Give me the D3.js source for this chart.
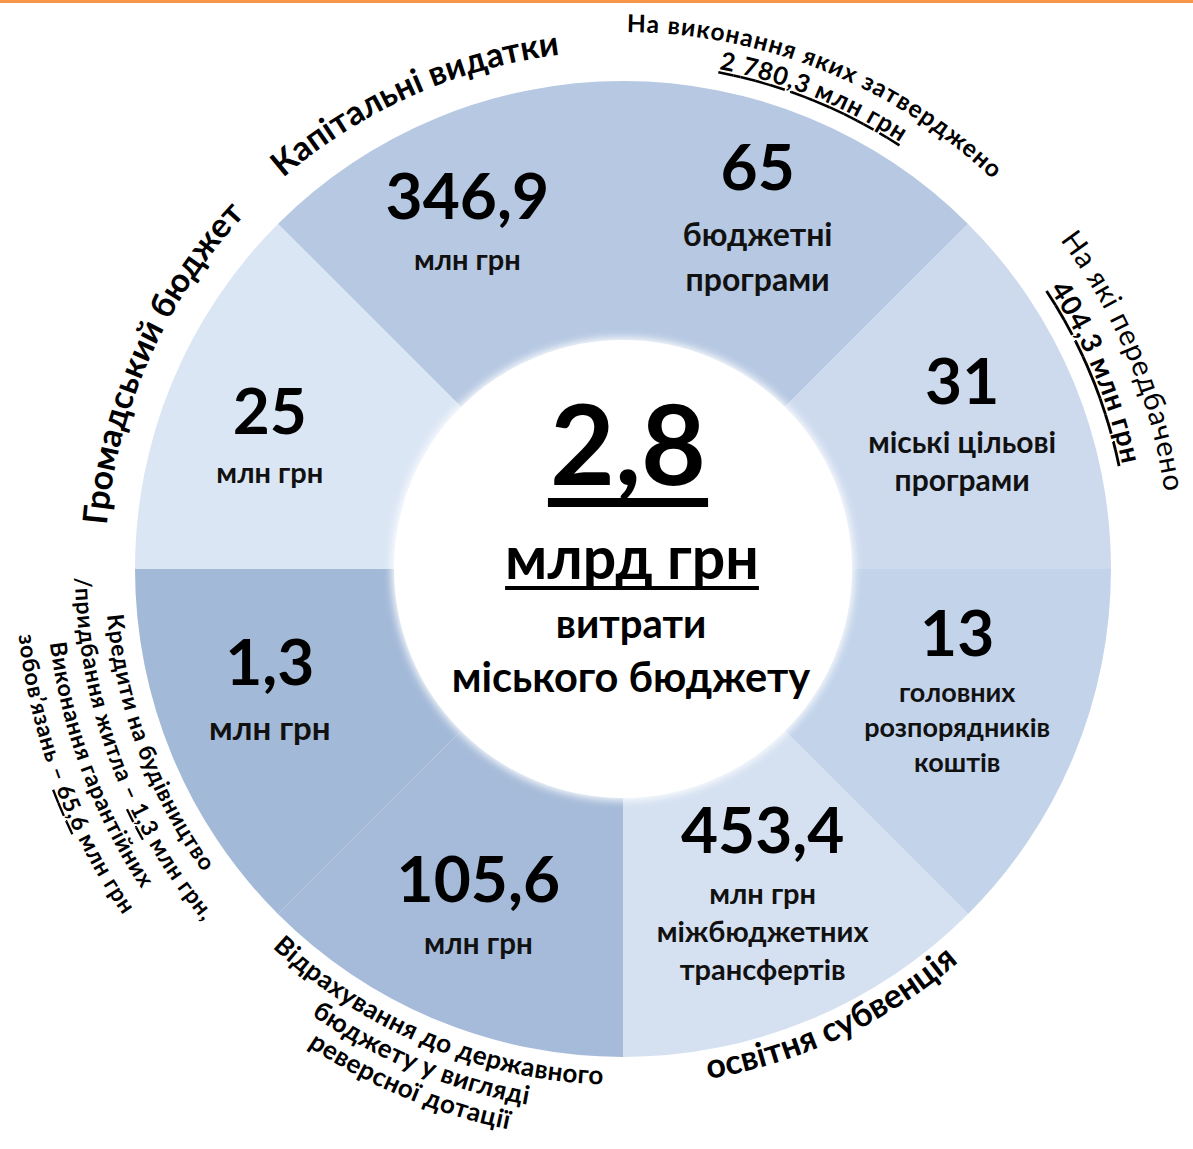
<!DOCTYPE html>
<html><head><meta charset="utf-8">
<script src="https://cdn.jsdelivr.net/npm/d3@7"></script>
<style>
html,body{margin:0;padding:0;background:#fff;}
svg{display:block;font-family:Lato,"Open Sans",sans-serif;}
</style></head><body>
<script>
// ---- data ----
const sectorWeights = [1, 1, 1, 1, 1, 1, 1, 1];
const sectorColors = ["#b6c8e2", "#b6c8e2", "#cddaee", "#c2d3ea", "#d5e1f1", "#a6bbd9", "#a3b9d8", "#dbe6f4"];
const bigValues = ["346,9", "65", "31", "13", "453,4", "105,6", "1,3", "25"];
const subLabels = [
  ["млн грн"],
  ["бюджетні", "програми"],
  ["міські цільові", "програми"],
  ["головних", "розпорядників", "коштів"],
  ["млн грн", "міжбюджетних", "трансфертів"],
  ["млн грн"],
  ["млн грн"],
  ["млн грн"]
];
// "_..._" marks an underlined part
const outerLabels = [
  ["Капітальні видатки"],
  ["На виконання яких затверджено", "_2 780,3 млн грн_"],
  ["На які передбачено", "_404,3 млн грн_"],
  [],
  ["освітня субвенція"],
  ["Відрахування до державного", "бюджету у вигляді", "реверсної дотації"],
  ["Кредити на будівництво", "/придбання житла – _1,3_ млн грн,", "Виконання гарантійних", "зобов’язань – _65,6_ млн грн"],
  ["Громадський бюджет"]
];
const centerTotal = "2,8";
const centerUnit = "млрд грн";
const centerCaption = ["витрати", "міського бюджету"];

// ---- layout / style ----
const W = 1193, H = 1149;
const cx = 623, cy = 569, rIn = 229, rOut = 488, rLabel = 365;
const innerNudge = [[-16,-5],[-5,-10],[2,0],[-3,-12],[0,-8],[-5,4],[-16,-15],[-16,11]];
const subSize = [29, 32, 30, 27, 29, 29.5, 33, 29];
const subGap = [64, 68, 62, 60, 64, 65, 66, 62];
const subStep = [38, 45, 38, 35, 38, 38, 38, 38];
const outerStyle = [
  {flip:false, dA:-1.5, lines:[{r:518,s:34,w:700,ls:0}]},
  {flip:false, dA:-0.5, lines:[{r:537,s:24.5,w:700,ls:1.1},{r:509,s:25,w:700,ls:1}]},
  {flip:false, dA:0, lines:[{r:547,s:29,w:400,ls:0.8},{r:510,s:28,w:700,ls:0.8}]},
  null,
  {flip:true, dA:-2.5, lines:[{r:517,s:34,w:700,ls:0}]},
  {flip:true, dA:0, lines:[{r:516,s:26,w:700,ls:0.4},{r:544,s:26,w:700,ls:0.4},{r:572,s:26,w:700,ls:0.4}]},
  {flip:true, dA:2, lines:[{r:518,s:23,w:700,ls:0.7},{r:548,s:23,w:700,ls:0.7},{r:578,s:23,w:700,ls:0.7},{r:608,s:23,w:700,ls:0.7}]},
  {flip:false, dA:1.5, lines:[{r:518,s:34,w:700,ls:0}]}
];

const svg = d3.select("body").append("svg").attr("width", W).attr("height", H);
const defs = svg.append("defs");
const blur = defs.append("filter").attr("id","soft").attr("x","-20%").attr("y","-20%").attr("width","140%").attr("height","140%");
blur.append("feGaussianBlur").attr("stdDeviation", 4);

svg.append("rect").attr("x",0).attr("y",0).attr("width",W).attr("height",3).attr("fill","#f79646");

const pie = d3.pie().sort(null).value(d => d).startAngle(-Math.PI/4).endAngle(7*Math.PI/4);
const arcs = pie(sectorWeights);
const arcGen = d3.arc().innerRadius(rIn).outerRadius(rOut);
const labelArc = d3.arc().innerRadius(rLabel).outerRadius(rLabel);

const g = svg.append("g").attr("transform", `translate(${cx},${cy})`);
g.selectAll("path.sector").data(arcs).join("path").attr("class","sector")
  .attr("d", arcGen).attr("fill", (d,i) => sectorColors[i]);
// soft edge of inner white circle
g.append("circle").attr("r", rIn + 2).attr("fill","#fff").attr("filter","url(#soft)");
g.append("circle").attr("r", rIn - 3).attr("fill","#fff");

// inner labels
arcs.forEach((d, i) => {
  const [x, y] = labelArc.centroid(d);
  const n = subLabels[i].length;
  const total = subGap[i] + subStep[i]*(n-1);
  const top = y - total/2 + innerNudge[i][1];
  const xx = x + innerNudge[i][0];
  g.append("text").attr("x", xx).attr("y", top).attr("text-anchor","middle")
    .attr("dominant-baseline","central").attr("font-weight",700).attr("font-size",64)
    .attr("fill","#000").text(bigValues[i]);
  subLabels[i].forEach((s, j) => {
    g.append("text").attr("x", xx).attr("y", top + subGap[i] + subStep[i]*j).attr("text-anchor","middle")
      .attr("dominant-baseline","central").attr("font-weight",700).attr("font-size",subSize[i])
      .attr("fill","#111").text(s);
  });
});

// center
const t1 = g.append("text").attr("x",5).attr("y",-84).attr("text-anchor","middle")
  .attr("font-weight",700).attr("font-size",112).text(centerTotal);
const b1 = t1.node().getBBox();
g.append("rect").attr("x", b1.x - 2).attr("y", -71).attr("width", b1.width + 4).attr("height", 9).attr("fill","#000");
const t2 = g.append("text").attr("x",9).attr("y",10).attr("text-anchor","middle")
  .attr("font-weight",700).attr("font-size",59).text(centerUnit);
const b2 = t2.node().getBBox();
g.append("rect").attr("x", b2.x).attr("y", 17).attr("width", b2.width).attr("height", 4).attr("fill","#000");
centerCaption.forEach((s, j) => {
  g.append("text").attr("x",8).attr("y",69 + 54*j).attr("text-anchor","middle")
    .attr("font-weight",700).attr("font-size", j ? 41.5 : 40).text(s);
});

// curved outer labels
function arcD(r, a0, a1) {
  const p = d3.path();
  p.moveTo(r*Math.sin(a0), -r*Math.cos(a0));
  p.arc(0, 0, r, a0 - Math.PI/2, a1 - Math.PI/2, a1 < a0);
  return p.toString();
}
const deg = Math.PI/180;
arcs.forEach((d, i) => {
  const st = outerStyle[i];
  if (!st) return;
  const mid = (d.startAngle + d.endAngle)/2 + st.dA*deg;
  outerLabels[i].forEach((line, j) => {
    const ls = st.lines[j];
    const id = `lab${i}_${j}`;
    const a0 = st.flip ? mid + 80*deg : mid - 80*deg;
    const a1 = st.flip ? mid - 80*deg : mid + 80*deg;
    defs.append("path").attr("id", id).attr("d", arcD(ls.r, a0, a1));
    const tp = g.append("text").attr("font-size", ls.s).attr("font-weight", ls.w)
      .attr("letter-spacing", ls.ls).attr("fill","#000")
      .append("textPath").attr("href", "#"+id).attr("startOffset","50%").attr("text-anchor","middle");
    const segs = line.split("_");
    segs.forEach((s, k) => {
      if (!s) return;
      const ts = tp.append("tspan").text(s);
      if (k % 2 === 1) ts.attr("text-decoration","underline");
    });
  });
});
</script>
</body></html>
